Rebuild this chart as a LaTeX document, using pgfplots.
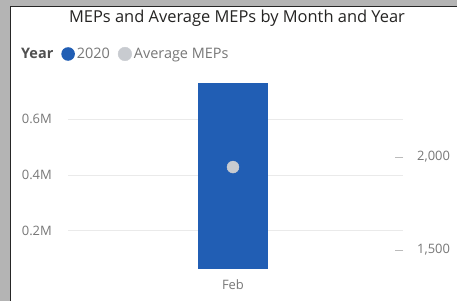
\documentclass[border=0pt]{standalone}
\usepackage{pgfplots}
\pgfplotsset{compat=1.18}
\usepackage{fontspec}
\setmainfont{Open Sans}
\definecolor{barblue}{RGB}{33,94,180}
\definecolor{avggray}{RGB}{200,203,208}
\definecolor{tickgray}{RGB}{119,119,119}
\definecolor{gridgray}{RGB}{234,234,234}
\definecolor{titlecol}{RGB}{37,36,35}
\definecolor{framegray}{RGB}{180,180,180}
\definecolor{legdark}{RGB}{80,80,80}
\begin{document}
\begin{tikzpicture}
\path[use as bounding box] (0,0) rectangle (457bp,301bp);
\fill[framegray] (0,0) rectangle (457bp,301bp);
\fill[white] (10bp,0) rectangle (457bp,295bp);
\draw[black!85, line width=1.5bp] (10.5bp,0) -- (10.5bp,294.5bp) -- (457bp,294.5bp);
\node[font=\fontsize{16.5}{19}\selectfont, text=titlecol, inner sep=0pt] at (237bp,283bp) {MEPs and Average MEPs by Month and Year};
\begin{axis}[
  at={(68bp,32bp)}, anchor=south west,
  scale only axis, width=335bp, height=186bp,
  xmin=-0.985, xmax=1.015,
  ymin=64000, ymax=729000,
  axis line style={draw=none},
  ybar, bar width=70bp,
  ytick={200000,400000,600000},
  yticklabels={0.2M,0.4M,0.6M},
  scaled y ticks=false,
  xtick={0}, xticklabels={Feb},
  major tick length=0pt,
  ymajorgrids, grid style={gridgray, line width=1bp},
  yticklabel style={anchor=east, inner sep=0pt, xshift=-16bp, font=\fontsize{13}{15}\selectfont, text=tickgray},
  xticklabel style={anchor=north, inner sep=0pt, yshift=-10bp, font=\fontsize{13}{15}\selectfont, text=tickgray},
  legend columns=-1,
  legend cell align=left,
  legend style={draw=none, fill=none, at={(-0.1463,1.156)}, anchor=west, inner sep=0pt,
    font=\fontsize{14.5}{17}\selectfont, text=tickgray,
    nodes={inner sep=0pt},
    /tikz/every odd column/.append style={column sep=2bp},
    /tikz/every even column/.append style={column sep=8bp}},
]
\addlegendimage{empty legend}
\addlegendentry{\textcolor{legdark}{\bfseries Year}}
\addplot[fill=barblue, draw=none, bar shift=0pt,
  legend image code/.code={\fill[barblue] (6.5bp,0) circle (6.8bp);}]
  coordinates {(0,729000)};
\addlegendentry{2020}
\addlegendimage{legend image code/.code={\fill[avggray] (6.5bp,0) circle (6.8bp);}}
\addlegendentry{Average MEPs}
\end{axis}
\begin{axis}[
  at={(68bp,32bp)}, anchor=south west,
  scale only axis, width=335bp, height=186bp,
  xmin=-0.985, xmax=1.015,
  ymin=1398, ymax=2398,
  axis x line=none,
  axis y line*=right,
  axis line style={draw=none},
  ytick={1500,2000},
  yticklabels={{1,500},{2,000}},
  tick align=inside,
  major tick length=8bp,
  ytick style={tickgray!50, line width=0.8bp},
  yticklabel style={anchor=west, inner sep=0pt, xshift=14bp, font=\fontsize{13}{15}\selectfont, text=tickgray},
]
\addplot[only marks, mark=*, mark size=6bp, mark options={fill=avggray, draw=avggray}]
  coordinates {(0,1946)};
\end{axis}
\end{tikzpicture}
\end{document}
